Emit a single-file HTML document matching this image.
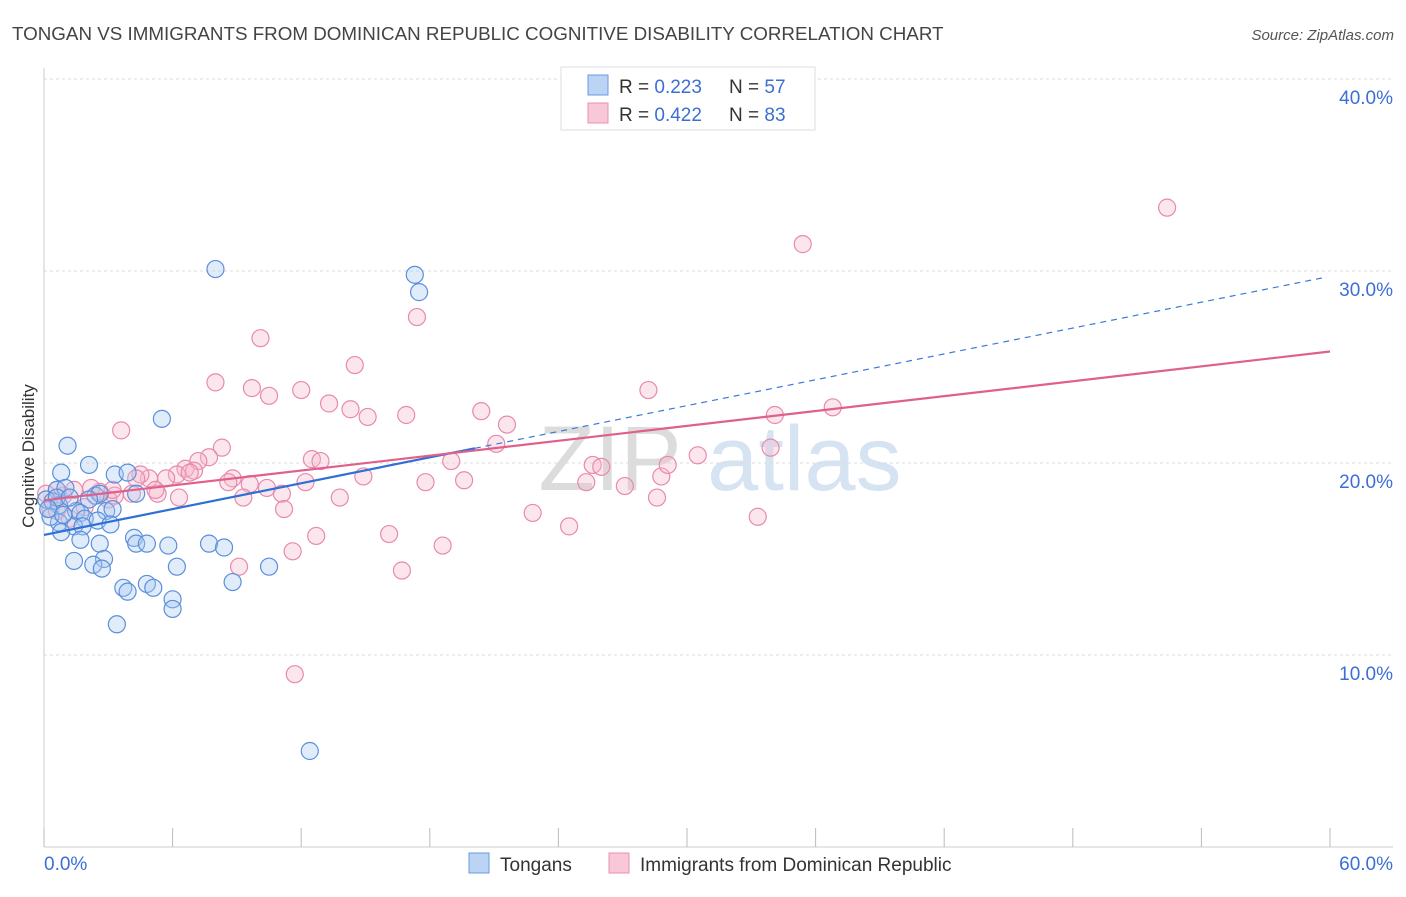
<!DOCTYPE html>
<html><head><meta charset="utf-8"><style>
body{margin:0;background:#fff;font-family:"Liberation Sans",sans-serif;}
svg text{font-family:"Liberation Sans",sans-serif;}
</style></head><body>
<svg id="chart" width="1406" height="892" xmlns="http://www.w3.org/2000/svg">
<text x="12" y="40" font-size="18.8" fill="#444">TONGAN VS IMMIGRANTS FROM DOMINICAN REPUBLIC COGNITIVE DISABILITY CORRELATION CHART</text>
<text x="1394" y="40" font-size="15" fill="#555" text-anchor="end" font-style="italic">Source: ZipAtlas.com</text>
<text x="720" y="490" font-size="92" fill="#e4e4e4" text-anchor="middle" font-family="Liberation Serif"><tspan fill="#dcdcdc">ZIP</tspan><tspan fill="#d5e3f3" font-family="Liberation Sans"> atlas</tspan></text>
<g id="grid"></g>
<g id="axes"></g>
<text transform="translate(34,456) rotate(-90)" font-size="17" fill="#333" text-anchor="middle">Cognitive Disability</text>
<g id="pts"></g>
<g id="trends"></g>
<g>
<rect x="561" y="67" width="254" height="63" fill="#fff" stroke="#ddd"/>
<rect x="588" y="75" width="20" height="20" fill="#bcd4f4" stroke="#6a9ae0"/>
<rect x="588" y="103" width="20" height="20" fill="#f9c8d8" stroke="#e890b0"/>
<text x="619" y="93" font-size="19" fill="#333">R = <tspan fill="#3b6fd4">0.223</tspan></text>
<text x="729" y="93" font-size="19" fill="#333">N = <tspan fill="#3b6fd4">57</tspan></text>
<text x="619" y="121" font-size="19" fill="#333">R = <tspan fill="#3b6fd4">0.422</tspan></text>
<text x="729" y="121" font-size="19" fill="#333">N = <tspan fill="#3b6fd4">83</tspan></text>
</g>
<g>
<rect x="469" y="853" width="20" height="20" fill="#bcd4f4" stroke="#6a9ae0"/>
<text x="500" y="871" font-size="19" fill="#333">Tongans</text>
<rect x="609" y="853" width="20" height="20" fill="#f9c8d8" stroke="#e890b0"/>
<text x="640" y="871" font-size="19" fill="#333">Immigrants from Dominican Republic</text>
</g>
</svg>
<script>
const yTicks=[10,20,30,40];
const yTickLabels=["10.0%","20.0%","30.0%","40.0%"];
const xTicks=[0,6,12,18,24,30,36,42,48,54,60];
const xEndLabels=["0.0%","60.0%"];
const blueX=[8.0,17.3,17.5,5.5,1.1,0.8,2.1,3.3,3.9,0.6,1.0,2.4,2.6,4.3,0.1,0.4,0.7,1.5,1.7,2.9,3.2,1.9,2.5,3.1,0.7,1.4,1.8,0.8,1.7,2.6,4.2,4.3,4.8,5.8,7.7,8.4,1.4,2.8,2.3,2.7,6.2,10.5,3.7,3.9,4.8,5.1,8.8,6.0,6.0,3.4,12.4,0.3,0.6,0.2,1.2,2.1,0.9];
const blueY=[30.1,29.8,28.9,22.3,20.9,19.5,19.9,19.4,19.5,18.6,18.7,18.3,18.4,18.4,18.1,18.0,17.8,17.5,17.4,17.5,17.6,17.1,17.0,16.8,16.9,16.7,16.7,16.4,16.0,15.8,16.1,15.8,15.8,15.7,15.8,15.6,14.9,15.0,14.7,14.5,14.6,14.6,13.5,13.3,13.7,13.5,13.8,12.9,12.4,11.6,5.0,17.2,18.2,17.6,18.2,18.1,17.3];
const pinkX=[52.4,35.4,10.1,17.4,14.5,8.0,9.7,10.5,12.0,13.3,14.3,15.1,16.9,20.4,21.6,21.1,28.2,34.1,36.8,33.9,3.6,8.3,7.7,7.2,6.6,7.0,6.2,5.7,4.9,4.5,8.8,8.6,9.6,10.4,11.1,12.2,12.5,12.9,14.9,13.8,9.3,11.2,6.3,5.3,4.1,3.3,3.0,2.6,2.2,1.4,0.9,0.6,0.1,17.8,19.0,19.6,22.8,24.5,25.3,25.6,26.0,27.1,28.6,28.8,29.1,30.5,33.3,16.1,12.7,11.6,18.6,16.7,9.1,11.7,0.3,0.6,1.9,1.2,3.2,4.3,5.2,6.8];
const pinkY=[33.3,31.4,26.5,27.6,25.1,24.2,23.9,23.5,23.8,23.1,22.8,22.4,22.5,22.7,22.0,21.0,23.8,22.5,22.9,20.8,21.7,20.8,20.3,20.1,19.7,19.6,19.4,19.2,19.2,19.4,19.2,19.0,18.9,18.7,18.4,19.0,20.2,20.1,19.3,18.2,18.2,17.6,18.2,18.4,18.4,18.3,18.1,18.5,18.7,18.6,18.3,18.6,18.4,19.0,20.1,19.1,17.4,16.7,19.0,19.9,19.8,18.8,18.2,19.3,19.9,20.4,17.2,16.3,16.2,15.4,15.7,14.4,14.6,9.0,17.6,17.5,17.7,17.1,18.6,19.2,18.6,19.5];
const X=v=>44+v/60*1286;
const Y=v=>847-v*19.2;
const NS="http://www.w3.org/2000/svg";
function mk(t,a,p){const e=document.createElementNS(NS,t);for(const k in a)e.setAttribute(k,a[k]);p.appendChild(e);return e;}
const grid=document.getElementById('grid'),axes=document.getElementById('axes'),pts=document.getElementById('pts'),tr=document.getElementById('trends');
yTicks.forEach((t,i)=>{
 const l=mk('line',{x1:44,x2:1393,y1:Y(t),y2:Y(t),stroke:'#ddd','stroke-dasharray':'3,3'},grid);
 
 
 const tx=mk('text',{x:1393,y:Y(t)+25,'font-size':19,fill:'#3b6fd4','text-anchor':'end'},axes);
 tx.textContent=yTickLabels[i];
 
 
});
const ax=mk('line',{x1:44,x2:1393,y1:847,y2:847,stroke:'#ccc'},axes);


const ay=mk('line',{x1:44,x2:44,y1:68,y2:847,stroke:'#ccc'},axes);


xTicks.forEach(t=>{
 const l=mk('line',{x1:X(t),x2:X(t),y1:828,y2:847,stroke:'#bbb'},axes);
 
 
});
const xl0=mk('text',{x:44,y:870,'font-size':19,fill:'#3b6fd4'},axes);xl0.textContent=xEndLabels[0];


const xl1=mk('text',{x:1393,y:870,'font-size':19,fill:'#3b6fd4','text-anchor':'end'},axes);xl1.textContent=xEndLabels[1];


function dots(xs,ys,fill,stroke,name){xs.forEach((x,i)=>{
 const c=mk('circle',{cx:X(x),cy:Y(ys[i]),r:8.5,fill:fill,'fill-opacity':0.35,stroke:stroke,'stroke-width':1.2},pts);
 
 
});}
dots(pinkX,pinkY,'#f6b6cb','#e88aab','dominican-point');
dots(blueX,blueY,'#a9c8f0','#5a8fdc','tongan-point');
function fit(xs,ys){const n=xs.length;let mx=0,my=0;xs.forEach((x,i)=>{mx+=x;my+=ys[i];});mx/=n;my/=n;let sxy=0,sxx=0;xs.forEach((x,i)=>{sxy+=(x-mx)*(ys[i]-my);sxx+=(x-mx)**2;});const b=sxy/sxx;return[my-b*mx,b];}
const bf=fit(blueX,blueY),pf=fit(pinkX,pinkY);
const bmax=20.1;
let l=mk('line',{x1:X(bmax),y1:Y(bf[0]+bf[1]*bmax),x2:X(59.8),y2:Y(bf[0]+bf[1]*59.8),stroke:'#3b7ad8','stroke-width':1.2,'stroke-dasharray':'6,5'},tr);


l=mk('line',{x1:X(0),y1:Y(bf[0]),x2:X(bmax),y2:Y(bf[0]+bf[1]*bmax),stroke:'#2f6fd6','stroke-width':2.2},tr);


l=mk('line',{x1:X(0),y1:Y(pf[0]),x2:X(60),y2:Y(pf[0]+pf[1]*60),stroke:'#e0608c','stroke-width':2.2},tr);


</script>
</body></html>
